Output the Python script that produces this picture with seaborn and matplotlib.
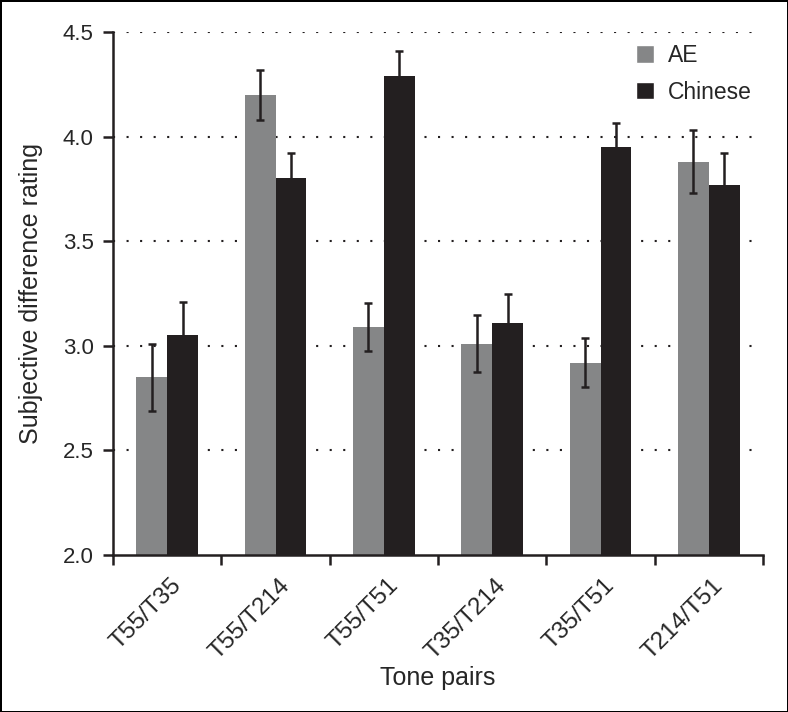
import pandas as pd
import numpy as np
import seaborn as sns
import matplotlib.pyplot as plt
from matplotlib.patches import Patch
from matplotlib.transforms import ScaledTranslation

pairs = ['T55/T35', 'T55/T214', 'T55/T51', 'T35/T214', 'T35/T51', 'T214/T51']
ae_mean = [2.85, 4.20, 3.09, 3.01, 2.92, 3.88]
ae_err = [0.16, 0.12, 0.115, 0.135, 0.115, 0.15]
cn_mean = [3.05, 3.80, 4.29, 3.11, 3.95, 3.77]
cn_err = [0.16, 0.12, 0.12, 0.14, 0.115, 0.15]
groups = ['AE', 'Chinese']
colors = ['#858687', '#231f20']

df = pd.DataFrame({
    'pair': pairs * 2,
    'group': ['AE'] * len(pairs) + ['Chinese'] * len(pairs),
    'rating': ae_mean + cn_mean,
})

sns.set_style('ticks')
plt.rcParams['font.family'] = ['Liberation Sans', 'DejaVu Sans']

fig = plt.figure(figsize=(7.88, 7.12), dpi=100, linewidth=2, edgecolor='black')
ax = fig.add_axes([113 / 788, 1 - 555 / 712, 650 / 788, 523 / 712])

sns.barplot(data=df, x='pair', y='rating', hue='group', palette=colors,
            width=0.57, ax=ax, legend=False, saturation=1, linewidth=0, zorder=2)

# error bars
errs = [ae_err, cn_err]
for cont, e in zip(ax.containers, errs):
    xs = [b.get_x() + b.get_width() / 2 for b in cont]
    ys = [b.get_height() for b in cont]
    ax.errorbar(xs, ys, yerr=e, fmt='none', ecolor='#231f20', elinewidth=1.8,
                capsize=3, capthick=1.8, zorder=3)

ax.set_ylim(2.0, 4.5)
ax.set_xlim(-0.5, len(pairs) - 0.5)
ax.set_yticks([2.0, 2.5, 3.0, 3.5, 4.0, 4.5])
ax.set_yticklabels(['2.0', '2.5', '3.0', '3.5', '4.0', '4.5'])
for yv in [2.5, 3.0, 3.5, 4.0, 4.5]:
    ax.axhline(yv, color='#231f20', linestyle=(0, (1, 5.5)), linewidth=1.5, zorder=1)

ax.set_xticks(np.arange(len(pairs)))
ax.set_xticks(np.arange(len(pairs) + 1) - 0.5, minor=True)
ax.tick_params(axis='x', which='major', length=0, pad=14, labelsize=17.5)
ax.tick_params(axis='x', which='minor', length=7, width=1.8, color='#231f20')
ax.tick_params(axis='y', length=7, width=1.8, color='#231f20', labelsize=16, pad=7)
ax.set_xticklabels(pairs, rotation=45, ha='right', va='top', rotation_mode='anchor')
shift = ScaledTranslation(3 / 100, 0, fig.dpi_scale_trans)
for lab in ax.get_xticklabels():
    lab.set_transform(lab.get_transform() + shift)

sns.despine(ax=ax, top=True, right=True)
for s in ['left', 'bottom']:
    ax.spines[s].set_linewidth(1.8)
    ax.spines[s].set_color('#231f20')

ax.set_xlabel('Tone pairs', fontsize=18, va='top')
ax.xaxis.set_label_coords(0.5, -(666 - 555) / 523)
ax.set_ylabel('Subjective difference rating', fontsize=18, labelpad=14)

handles = [Patch(facecolor=c, label=g) for g, c in zip(groups, colors)]
ax.legend(handles=handles, loc='upper left', frameon=False, fontsize=16.5,
          handlelength=0.78, handleheight=0.78, handletextpad=0.6,
          labelspacing=0.6, borderpad=0, borderaxespad=0,
          bbox_to_anchor=((636 - 113) / 650, (555 - 44) / 523))

fig.savefig('out.png', dpi=100, edgecolor=fig.get_edgecolor())
